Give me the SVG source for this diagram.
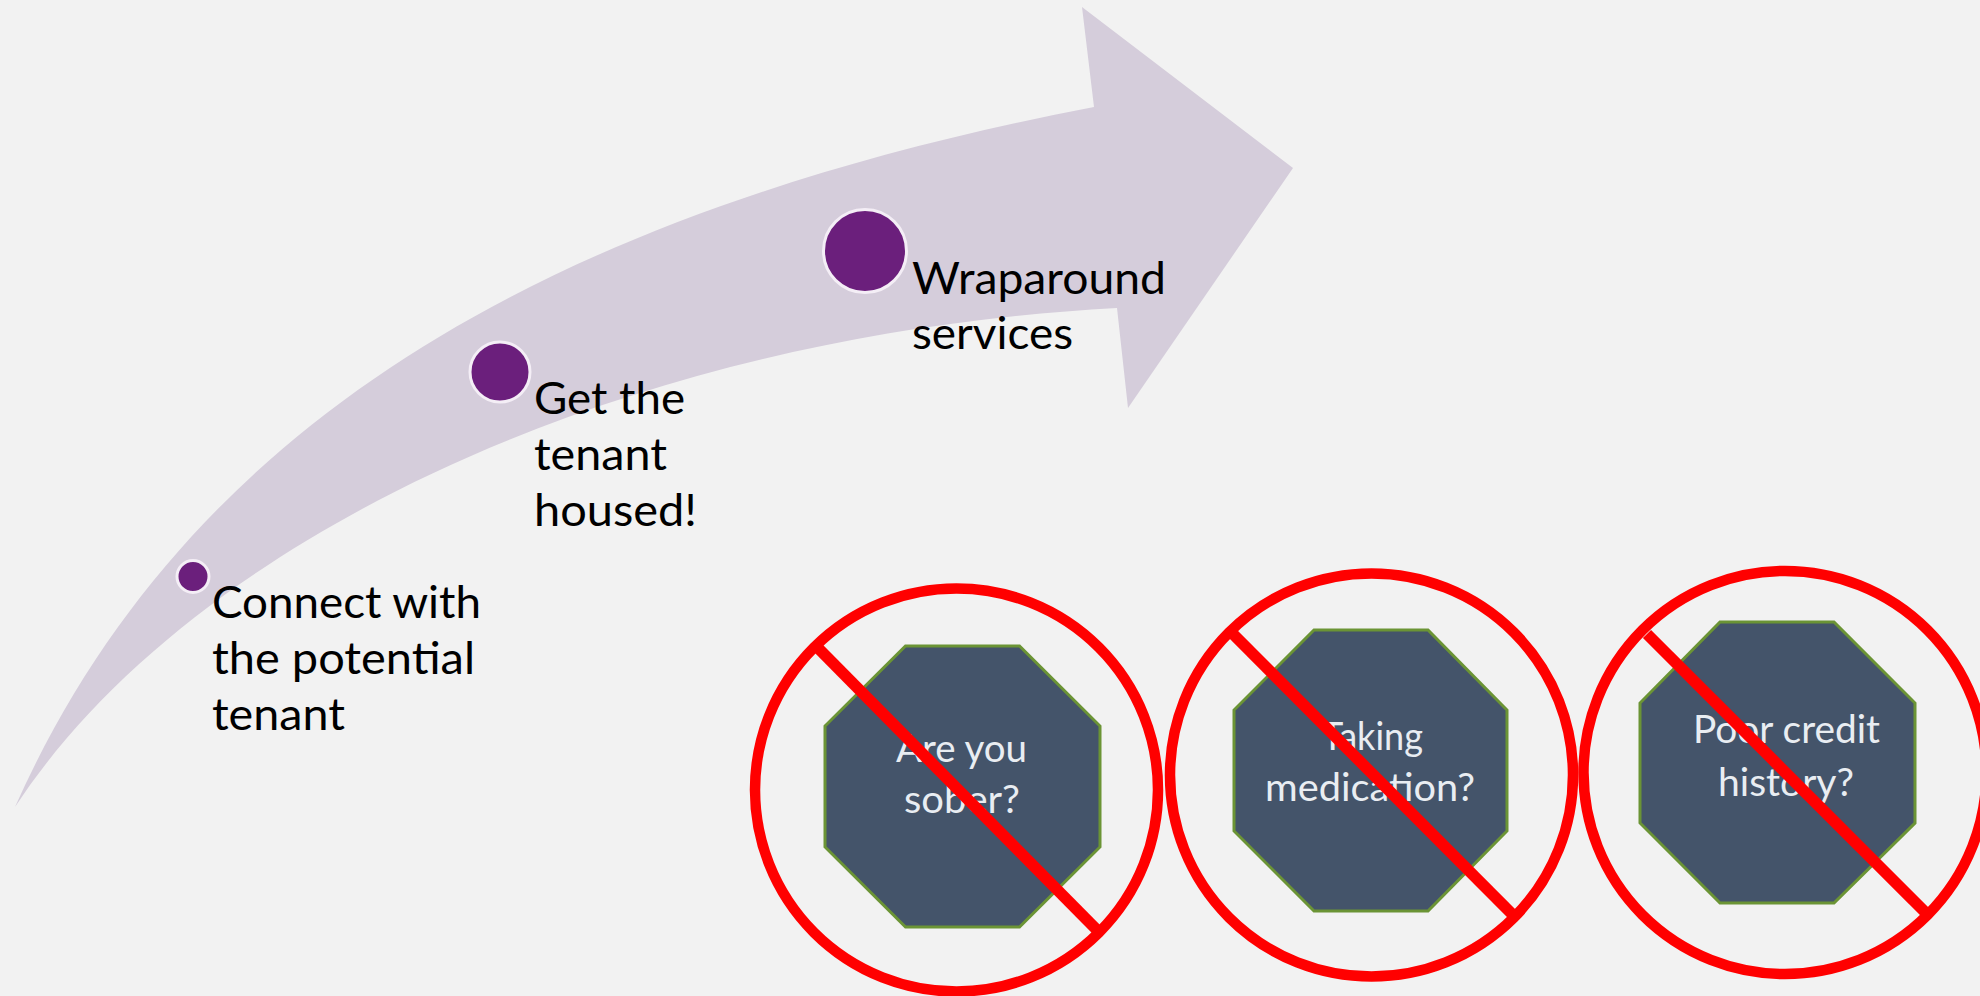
<svg xmlns="http://www.w3.org/2000/svg" width="1980" height="996" viewBox="0 0 1980 996">
<style>
.t{font-family:Lato,"Open Sans","Liberation Sans",sans-serif;font-size:45px;fill:#000}
.w{font-family:Lato,"Open Sans","Liberation Sans",sans-serif;font-size:39px;fill:#e9edf2}
.dot{fill:#6b1f7c;stroke:#f4eef6;stroke-width:3}
.oct{fill:#44546a;stroke:#6b9435;stroke-width:3}
.ring{fill:none;stroke:#ff0000;stroke-width:10.5}
.bar{stroke:#ff0000;stroke-width:11.5;stroke-linecap:butt}
</style>
<rect width="1980" height="996" fill="#f2f2f2"/>
<g id="arrow"><path d="M15,807C190,415 560,210 1094,107L1082,7L1293,168L1128,408L1117,308C620,335 190,540 15,807Z" fill="#d5cddb"/></g>
<g id="step1"><circle class="dot" cx="193" cy="576.5" r="16"/>
<text class="t" x="212" y="618" textLength="269" lengthAdjust="spacingAndGlyphs">Connect with</text>
<text class="t" x="212" y="674" textLength="263" lengthAdjust="spacingAndGlyphs">the potential</text>
<text class="t" x="212" y="729.5" textLength="133" lengthAdjust="spacingAndGlyphs">tenant</text></g>
<g id="step2"><circle class="dot" cx="500" cy="372" r="30"/>
<text class="t" x="534" y="414" textLength="151" lengthAdjust="spacingAndGlyphs">Get the</text>
<text class="t" x="534" y="470" textLength="133" lengthAdjust="spacingAndGlyphs">tenant</text>
<text class="t" x="534" y="526" textLength="163" lengthAdjust="spacingAndGlyphs">housed!</text></g>
<g id="step3"><circle class="dot" cx="865" cy="251" r="41.5"/>
<text class="t" x="912" y="293.5" textLength="254" lengthAdjust="spacingAndGlyphs">Wraparound</text>
<text class="t" x="912" y="348.5" textLength="161" lengthAdjust="spacingAndGlyphs">services</text></g>
<g id="no-sober">
<polygon class="oct" points="905.5,646 1019.5,646 1100,726 1100,847 1019.5,927 905.5,927 825,847 825,726"/>
<text class="w" x="896" y="762" textLength="131" lengthAdjust="spacingAndGlyphs">Are you</text>
<text class="w" x="904" y="813" textLength="116" lengthAdjust="spacingAndGlyphs">sober?</text>
<circle class="ring" cx="956.5" cy="790" r="201.5"/>
<line class="bar" x1="818" y1="648" x2="1096" y2="929"/></g>
<g id="no-medication">
<polygon class="oct" points="1314,630 1428,630 1507,710 1507,831 1428,911 1314,911 1234,831 1234,710"/>
<text class="w" x="1322" y="750" textLength="101" lengthAdjust="spacingAndGlyphs">Taking</text>
<text class="w" x="1265" y="800.5" textLength="210" lengthAdjust="spacingAndGlyphs">medication?</text>
<circle class="ring" cx="1371.5" cy="775" r="201.5"/>
<line class="bar" x1="1232" y1="633" x2="1512" y2="914"/></g>
<g id="no-credit">
<polygon class="oct" points="1720,622 1834,622 1915,703 1915,823 1834,903 1720,903 1640,823 1640,703"/>
<text class="w" x="1693" y="743" textLength="187" lengthAdjust="spacingAndGlyphs">Poor credit</text>
<text class="w" x="1718" y="796" textLength="136" lengthAdjust="spacingAndGlyphs">history?</text>
<circle class="ring" cx="1785" cy="772.5" r="201.5"/>
<line class="bar" x1="1647" y1="634" x2="1925" y2="912"/></g>
</svg>
